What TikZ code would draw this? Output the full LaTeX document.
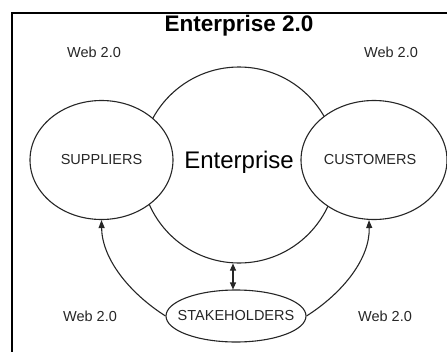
\documentclass[tikz,border=0pt]{standalone}
\usepackage{fontspec}
\setmainfont{Liberation Sans}
\usetikzlibrary{arrows.meta,shapes.geometric}
\begin{document}
\begin{tikzpicture}[x=1pt,y=-1pt,
  line/.style={line width=1.1pt, draw=black!85},
  party/.style={ellipse, line, fill=white},
  lbl/.style={font=\fontsize{14.5}{16}\selectfont, text=black!85},
  tip/.style={Triangle[length=8pt,width=6pt]},
  arr/.style={line, -{Triangle[length=8pt,width=6pt]}},
  every node/.style={inner sep=0pt}]
\useasboundingbox (0,0) rectangle (447,351);
% outer frame (runs past the right and bottom edges)
\draw[line width=1.4pt] (12,360) -- (12,13) -- (460,13);
% title and corner labels
\node (title) at (239,26) {\fontsize{22.5}{24}\selectfont\bfseries Enterprise 2.0};
\node[lbl] (wtl) at (94,52) {Web 2.0};
\node[lbl] (wtr) at (391,52) {Web 2.0};
\node[lbl] (wbl) at (90,316) {Web 2.0};
\node[lbl] (wbr) at (385,316) {Web 2.0};
% central enterprise circle
\node[circle, line, minimum size=196pt] (ent) at (239,165) {};
\node (entlbl) at (239,162) {\fontsize{24}{26}\selectfont Enterprise};
% outer parties
\node[party, minimum width=143pt, minimum height=119pt] (sup) at (101.5,160) {};
\node[lbl] at (sup) {SUPPLIERS};
\node[party, minimum width=146pt, minimum height=119pt] (cus) at (374,160) {};
\node[lbl] at (370,160) {CUSTOMERS};
\node[party, minimum width=140pt, minimum height=52pt] (stk) at (236,316) {};
\node[lbl] at (stk) {STAKEHOLDERS};
% connectors
\coordinate (ax) at (233,0);
\coordinate (cx) at (369,0);
\draw[line, {Triangle[length=7pt,width=6pt]}-{Triangle[length=7pt,width=6pt]}] (ent.south -| ax) -- (stk.north -| ax);
\draw[arr] (stk.west) .. controls (128,292) and (102,258) .. (sup.south);
\draw[arr] (stk.east) .. controls (344,292) and (370,258) .. (cus.south -| cx);
\end{tikzpicture}
\end{document}
